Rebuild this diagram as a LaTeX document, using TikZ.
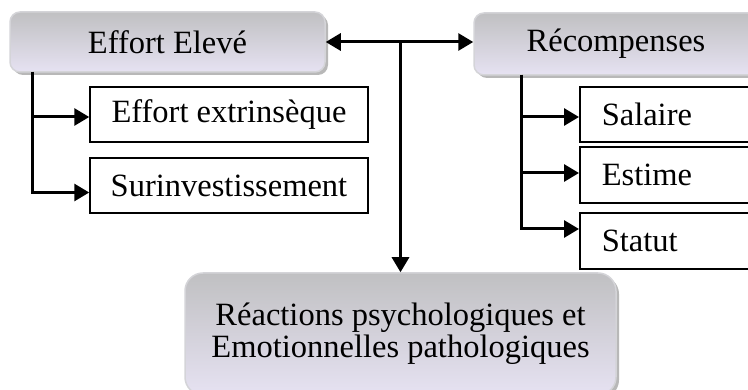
\documentclass[tikz,border=0pt]{standalone}
\usepackage{fontspec}
\setmainfont{Liberation Serif}
\usetikzlibrary{arrows.meta,shadows}
\definecolor{boxtop}{RGB}{192,192,194}
\definecolor{boxbot}{RGB}{230,226,242}
\definecolor{boxrim}{RGB}{212,212,216}
\begin{document}
\begin{tikzpicture}[x=1pt,y=-1pt,
  every node/.style={font=\fontsize{32.5}{32}\selectfont},
  softbox/.style={rounded corners=10pt, top color=boxtop, bottom color=boxbot,
    draw=boxrim, line width=1.5pt, inner sep=0pt,
    drop shadow={shadow xshift=3pt, shadow yshift=-3pt, fill=gray!70, opacity=0.8}},
  plainbox/.style={draw=black, line width=1.5pt, fill=white, inner sep=0pt},
  leftbox/.style={plainbox, align=left, text width=150pt, inner xsep=22pt, anchor=west},
  conn/.style={line width=3pt, -{Triangle[length=15pt,width=17pt]}},
  connboth/.style={line width=3pt, {Triangle[length=15pt,width=17pt]}-{Triangle[length=15pt,width=17pt]}}
]
\path[use as bounding box, clip] (0,0) rectangle (748,390);

% main boxes
\node[softbox, minimum width=315pt, minimum height=60pt] (ef) at (167.5,42) {Effort Elevé};
\node[softbox, minimum width=284pt, minimum height=62pt] (rc) at (616,44) {Récompenses};
\node[softbox, rounded corners=18pt, minimum width=431pt, minimum height=122pt, align=center] (rx) at (400.5,334)
  {Réactions psychologiques et\\Emotionnelles pathologiques};

% left children
\node[plainbox, minimum width=278pt, minimum height=55pt] (ee) at (229,114.5) {Effort extrinsèque};
\node[plainbox, minimum width=278pt, minimum height=55pt] (si) at (229,185.5) {Surinvestissement};

% right children
\node[leftbox, minimum height=55pt] (sa) at (579,114.5) {Salaire};
\node[leftbox, minimum height=56pt] (es) at (579,175) {Estime};
\node[leftbox, minimum height=56pt] (st) at (579,241) {Statut};

% connectors
\draw[connboth] (ef.east) -- (rc.west |- ef.east);
\draw[conn] (ef.east -| rx.north) -- (rx.north);

\coordinate (lv) at (32,72);
\draw[conn] (lv) |- ([yshift=-2.5pt]ee.west);
\draw[conn] (lv) |- ([yshift=-7pt]si.west);

\coordinate (rv) at (521,75);
\draw[conn] (rv) |- ([yshift=-2.5pt]sa.west);
\draw[conn] (rv) |- ([yshift=2pt]es.west);
\draw[conn] (rv) |- ([yshift=12pt]st.west);
\end{tikzpicture}
\end{document}
